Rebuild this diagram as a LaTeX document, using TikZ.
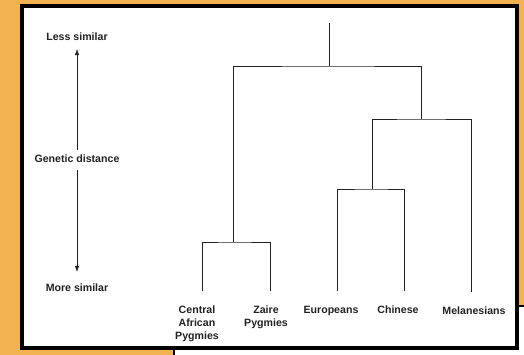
\documentclass[tikz,border=0pt]{standalone}
\usepackage{fontspec}
\setmainfont{Liberation Sans}
\usetikzlibrary{arrows.meta}
\definecolor{bgorange}{RGB}{242,178,82}
\definecolor{inkgray}{RGB}{34,34,34}
\tikzset{
  branch/.style={line width=0.8pt, draw=inkgray},
  lbl/.style={font=\bfseries\fontsize{10.6}{13}\selectfont, text=inkgray, inner sep=0pt, align=center},
  leaflbl/.style={lbl, anchor=north},
  axisarrow/.style={line width=0.6pt, draw=inkgray, -{Latex[length=6pt,width=4.5pt]}}
}
\begin{document}
\begin{tikzpicture}[x=1pt,y=-1pt]
\useasboundingbox (0,0) rectangle (524,355);
% background
\fill[bgorange] (0,0) rectangle (524,355);
% second slide box behind
\draw[fill=white, line width=1.6pt] (174,306) rectangle (540,370);
% main panel
\draw[fill=white, line width=4pt] (22,6) rectangle (517,348);

% tree coordinates
\coordinate (cap) at (202,291);
\coordinate (zp) at (270,291);
\coordinate (eu) at (337,291);
\coordinate (ch) at (404,291);
\coordinate (me) at (471,292);
\coordinate (pj) at (233,242);
\coordinate (ecj) at (372,189);
\coordinate (ecmj) at (421,119);
\coordinate (rootj) at (329,66);
\coordinate (roottop) at (329,23);

\draw[branch] (cap) |- (pj) -| (zp);
\draw[branch] (eu) |- (ecj) -| (ch);
\draw[branch] (ecj) |- (ecmj) -| (me);
\draw[branch] (pj) |- (rootj) -| (ecmj);
\draw[branch] (rootj) -- (roottop);

% leaf labels
\node[leaflbl] (lcap) at (197,306) {Central\\African\\Pygmies};
\node[leaflbl] (lzp) at (266,306) {Zaire\\Pygmies};
\node[leaflbl] (leu) at (331,306) {Europeans};
\node[leaflbl] (lch) at (398,306) {Chinese};
\node[leaflbl] (lme) at (474,307) {Melanesians};

% axis
\node[lbl] (less) at (77,37) {Less similar};
\node[lbl] (gd) at (77,159) {Genetic distance};
\node[lbl] (more) at (77,288) {More similar};
\draw[axisarrow, shorten <=5pt, shorten >=8pt] (gd.north) -- (less.south);
\draw[axisarrow, shorten <=7pt, shorten >=12pt] (gd.south) -- (more.north);
\end{tikzpicture}
\end{document}
